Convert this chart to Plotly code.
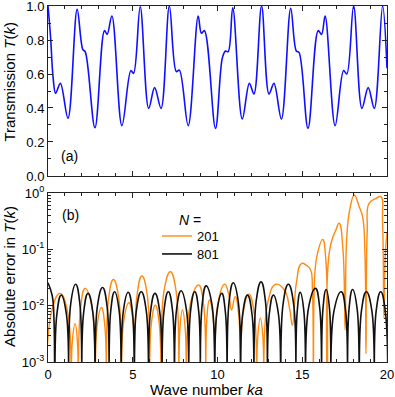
import plotly.graph_objects as go

# ---------------- Panel (a): transmission T(k) ----------------
k_T = [0, 0.15, 0.3, 0.45, 0.73, 1.18, 1.72, 2.05, 2.2, 2.77, 3.33, 3.49, 3.77, 4.36,
       4.89, 5.05, 5.44, 5.94, 6.29, 6.67, 7.16, 7.57, 7.75, 8.27, 8.86, 9.05, 9.23, 9.88,
       10.28, 10.47, 10.63, 10.9, 11.46, 11.88, 12.15, 12.6, 13.04, 13.33, 13.77, 14.32,
       14.65, 14.81, 15.34, 15.94, 16.14, 16.35, 16.94, 17.44, 17.63, 18.03, 18.52, 18.89,
       19.25, 19.74, 20.0]
T_vals = [1.0, 0.82, 0.58, 0.486, 0.545, 0.34, 0.98, 0.745, 0.73, 0.284, 0.855, 0.833, 0.941, 0.296,
          0.62, 0.604, 0.996, 0.398, 0.52, 0.398, 1.0, 0.614, 0.623, 0.296, 0.941, 0.84, 0.855, 0.28,
          0.692, 0.735, 0.731, 0.99, 0.335, 0.545, 0.482, 1.0, 0.482, 0.545, 0.335, 0.986,
          0.735, 0.727, 0.28, 0.855, 0.833, 0.941, 0.296, 0.62, 0.6, 1.0, 0.398, 0.52,
          0.398, 1.0, 0.634]

# ---------------- Panel (b): absolute error ----------------
# N = 801 (black)
k_801 = [0, 0.25, 0.35, 0.41,
         0.52, 0.78, 1.09, 1.22,
         1.34, 1.63, 1.88, 1.99,
         2.10, 2.36, 2.65, 2.78,
         2.91, 3.22, 3.49, 3.60,
         3.70, 3.93, 4.20, 4.32,
         4.44, 4.73, 4.98, 5.09,
         5.21, 5.50, 5.80, 5.93,
         6.04, 6.31, 6.60, 6.73,
         6.84, 7.10, 7.35, 7.46,
         7.58, 7.85, 8.17, 8.30,
         8.41, 8.66, 8.89, 8.99,
         9.09, 9.33, 9.68, 9.83,
         9.96, 10.25, 10.47, 10.57,
         10.68, 10.93, 11.23, 11.36,
         11.48, 11.77, 12.04, 12.15,
         12.28, 12.57, 12.83, 12.94,
         13.05, 13.30, 13.60, 13.73,
         13.87, 14.18, 14.49, 14.62,
         14.70, 14.88, 15.10, 15.20,
         15.37, 15.78, 16.03, 16.14,
         16.22, 16.41, 16.61, 16.69,
         16.87, 17.30, 17.56, 17.67,
         17.76, 17.97, 18.24, 18.36,
         18.49, 18.78, 19.11, 19.25,
         19.36, 19.63, 19.90, 20.02]
err_801 = [0.0255, 0.015, 0.006, 1e-4,
           0.0069, 0.0154, 0.0069, 1e-4,
           0.0108, 0.024, 0.0108, 1e-4,
           0.0074, 0.0165, 0.0074, 1e-4,
           0.0095, 0.021, 0.0095, 1e-4,
           0.008, 0.0177, 0.008, 1e-4,
           0.0078, 0.0173, 0.0078, 1e-4,
           0.008, 0.0177, 0.008, 1e-4,
           0.0074, 0.0165, 0.0074, 1e-4,
           0.008, 0.0177, 0.008, 1e-4,
           0.0083, 0.0184, 0.0083, 1e-4,
           0.008, 0.0177, 0.008, 1e-4,
           0.0101, 0.0225, 0.0101, 1e-4,
           0.0074, 0.0165, 0.0074, 1e-4,
           0.0115, 0.0255, 0.0115, 1e-4,
           0.0069, 0.0154, 0.0069, 1e-4,
           0.0119, 0.0265, 0.0119, 1e-4,
           0.0069, 0.0154, 0.0069, 1e-4,
           0.0108, 0.024, 0.0108, 1e-4,
           0.0077, 0.0172, 0.0077, 1e-4,
           0.0091, 0.0203, 0.0091, 1e-4,
           0.0087, 0.0194, 0.0087, 1e-4,
           0.008, 0.0177, 0.008, 1e-4,
           0.0087, 0.0194, 0.0087, 1e-4,
           0.008, 0.0177, 0.008, 1e-4,
           0.008, 0.0177, 0.008, 1e-4]

# N = 201 (orange)
k_201 = [-0.03, 0.19, 0.71, 1.17, 1.36,
         1.43, 1.60, 1.74, 1.80,
         1.92, 2.19, 2.60, 2.78,
         2.89, 3.15, 3.36, 3.45,
         3.57, 3.86, 4.18, 4.32,
         4.46, 4.77, 5.02, 5.12,
         5.25, 5.54, 5.86, 5.99,
         6.09, 6.33, 6.57, 6.67,
         6.84, 7.22, 7.56, 7.71,
         7.78, 7.93, 8.10, 8.17,
         8.39, 8.89, 9.18, 9.30,
         9.37, 9.52, 9.75, 9.85,
         10.02, 10.43, 10.66, 10.83, 11.04, 11.26, 11.36,
         11.51, 11.85, 12.17, 12.30,
         12.37, 12.53, 12.68, 12.75,
         12.95, 13.45, 13.95, 14.25, 14.42, 14.65, 14.95, 15.25, 15.50, 15.60, 15.66,
         15.75, 15.90, 16.20, 16.40, 16.49,
         16.60, 16.98, 17.18, 17.40, 17.53, 17.62, 17.80, 18.07, 18.36, 18.56, 18.70,
         18.76, 18.83, 18.95, 19.35, 19.64, 19.74, 19.82, 19.90, 20.0]
err_201 = [1e-4, 0.0074, 0.0165, 0.0074, 1e-4,
           0.0022, 0.0048, 0.0022, 1e-4,
           0.0091, 0.0203, 0.0091, 1e-4,
           0.0042, 0.0093, 0.0042, 1e-4,
           0.0131, 0.0292, 0.0131, 1e-4,
           0.0051, 0.0113, 0.0051, 1e-4,
           0.0151, 0.0336, 0.0151, 1e-4,
           0.0046, 0.0102, 0.0046, 1e-4,
           0.018, 0.040, 0.018, 1e-4,
           0.0038, 0.0084, 0.0038, 1e-4,
           0.0104, 0.0232, 0.0104, 1e-4,
           0.0057, 0.0126, 0.0057, 1e-4,
           0.0108, 0.024, 0.016, 0.0084, 0.0145, 0.0065, 1e-4,
           0.0072, 0.016, 0.0072, 1e-4,
           0.0027, 0.006, 0.0027, 1e-4,
           0.0108, 0.024, 0.019, 0.009, 0.0045, 0.025, 0.056, 0.052, 0.043, 0.02, 1e-4,
           0.04, 0.085, 0.15, 0.06, 1e-4,
           0.09, 0.22, 0.29, 0.1, 0.0037, 0.15, 0.5, 0.92, 0.57, 0.38, 0.08,
           0.0014, 0.2, 0.66, 0.8, 0.86, 0.3, 0.006, 0.08, 0.2]

assert len(k_T) == len(T_vals)
assert len(k_801) == len(err_801)
assert len(k_201) == len(err_201)

x_ticks = [0, 5, 10, 15, 20]
log_tickvals = [1e-3, 1e-2, 1e-1, 1]
log_ticktext = ["10<sup>-3</sup>", "10<sup>-2</sup>", "10<sup>-1</sup>", "10<sup>0</sup>"]
log_minor = [m * 10 ** e for e in (-3, -2, -1) for m in range(2, 10)]

FONT = "Liberation Sans, Arial, sans-serif"
FRAME = "#222222"

fig = go.Figure()
fig.add_trace(go.Scatter(x=k_T, y=T_vals, mode="lines", showlegend=False,
                         line=dict(color="#1010ff", width=1.6, shape="spline", smoothing=1.0),
                         xaxis="x", yaxis="y"))
fig.add_trace(go.Scatter(x=k_201, y=err_201, mode="lines", name="201", legend="legend",
                         line=dict(color="#ff8a10", width=1.4, shape="spline", smoothing=1.3),
                         xaxis="x2", yaxis="y2"))
fig.add_trace(go.Scatter(x=k_801, y=err_801, mode="lines", name="801", legend="legend2",
                         line=dict(color="#111111", width=1.6, shape="spline", smoothing=1.3),
                         xaxis="x2", yaxis="y2"))

axis_common = dict(showline=True, linecolor=FRAME, linewidth=1, mirror="ticks",
                   ticks="inside", tickcolor=FRAME, ticklen=5, tickwidth=1,
                   showgrid=False, zeroline=False, automargin=False,
                   ticklabeloverflow="allow",
                   tickfont=dict(family=FONT, size=13, color="black"))

legend_common = dict(xanchor="left", yanchor="top", bgcolor="rgba(0,0,0,0)",
                     font=dict(family=FONT, size=13), borderwidth=0)

fig.update_layout(
    template="none",
    width=395, height=397, autosize=False,
    margin=dict(l=48, r=8, t=6, b=35, pad=0),
    paper_bgcolor="white", plot_bgcolor="white",
    font=dict(family=FONT, size=13, color="black"),
    xaxis=dict(domain=[0, 1], range=[0, 20], anchor="y", tickvals=x_ticks,
               showticklabels=False,
               minor=dict(dtick=1, ticks="inside", ticklen=3, tickcolor=FRAME),
               **axis_common),
    yaxis=dict(domain=[0.5225, 1.0], range=[0, 1], anchor="x", dtick=0.2, tickformat=".1f",
               minor=dict(dtick=0.1, ticks="inside", ticklen=3, tickcolor=FRAME),
               **axis_common),
    xaxis2=dict(domain=[0, 1], range=[0, 20], anchor="y2", tickvals=x_ticks,
                minor=dict(dtick=1, ticks="inside", ticklen=3, tickcolor=FRAME),
                **axis_common),
    yaxis2=dict(domain=[0, 0.4747], type="log", range=[-3, 0], anchor="x2",
                tickmode="array", tickvals=log_tickvals, ticktext=log_ticktext,
                minor=dict(tickmode="array", tickvals=log_minor, ticks="inside",
                           ticklen=3, tickcolor=FRAME),
                **axis_common),
    legend=dict(x=0.3215, y=0.396, **legend_common),
    legend2=dict(x=0.3215, y=0.3455, **legend_common),
    annotations=[
        dict(text="(a)", x=0.0634, y=0.580, xref="paper", yref="paper",
             xanchor="center", yanchor="middle", showarrow=False, font=dict(size=14)),
        dict(text="(b)", x=0.0678, y=0.413, xref="paper", yref="paper",
             xanchor="center", yanchor="middle", showarrow=False, font=dict(size=14)),
        dict(text="<i>N</i> =", x=0.419, y=0.399, xref="paper", yref="paper",
             xanchor="center", yanchor="middle", showarrow=False, font=dict(size=14)),
        dict(text="Transmission <i>T</i>(<i>k</i>)", x=-0.112, y=0.785, xref="paper",
             yref="paper", xanchor="center", yanchor="middle",
             textangle=-90, showarrow=False, font=dict(size=15)),
        dict(text="Absolute error in <i>T</i>(<i>k</i>)", x=-0.112, y=0.239, xref="paper",
             yref="paper", xanchor="center", yanchor="middle",
             textangle=-90, showarrow=False, font=dict(size=15)),
        dict(text="Wave number <i>ka</i>", x=0.469, y=-0.076, xref="paper", yref="paper",
             xanchor="center", yanchor="middle", showarrow=False, font=dict(size=15)),
    ],
)

fig.write_html("out.html", config={"displayModeBar": False},
               post_script="document.body.style.margin='0px';")
